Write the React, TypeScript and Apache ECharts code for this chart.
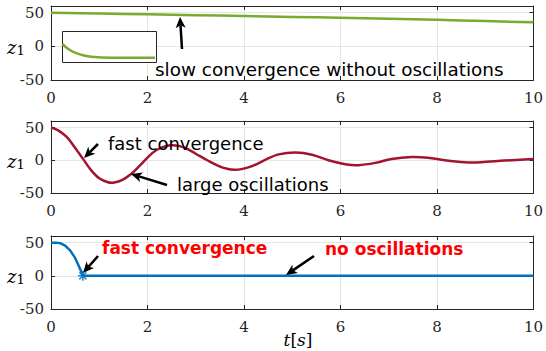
import React, { useEffect, useRef } from "react";
import * as echarts from "echarts";

// ---- data ----
const greenT = [0, 1, 2, 3, 4, 5, 6, 7, 8, 9, 10];
const greenZ = [50, 48.8, 47.6, 46.4, 45.1, 43.8, 42.4, 41.0, 39.4, 37.6, 35.7];

const redT = [0, 0.14, 0.32, 0.49, 0.66, 0.83, 1.0, 1.18, 1.31, 1.48, 1.66, 1.83, 2.0, 2.17, 2.38, 2.5, 2.65, 2.79, 3.0, 3.24, 3.48, 3.65, 3.8, 3.95, 4.17, 4.45, 4.72, 5.07, 5.41, 5.75, 6.1, 6.37, 6.72, 7.06, 7.47, 7.81, 8.16, 8.57, 8.91, 9.4, 10];
const redZ = [50, 46, 36, 20, 2.5, -15, -27.5, -33.5, -34, -30, -21, -9, 4, 15, 21.5, 23, 22, 18.5, 10, 0, -9, -13, -14.5, -13.5, -9, 1, 9, 12, 8.5, 0, -6, -7.5, -4, 2, 5, 4, 0, -3, -3, -0.5, 2];

const blueT = [0, 0.1, 0.2, 0.3, 0.4, 0.5, 0.6, 0.66, 10];
const blueZ = [50, 50, 49, 45, 38, 27, 11, 0, 0];

const markerT = [0.66];
const markerZ = [0];

// inset (zoomed view of the green response, in inset units)
const insetT = [0.3, 6.3, 13, 23, 36.3, 53, 93];
const insetZ = [18, 13, 9.3, 6.3, 4.7, 4.3, 4.3];

const xMin = 0, xMax = 10, xStep = 2;
const yMin = -50, yMax = 60, yStep = 50;

const zip = (a: number[], b: number[]) => a.map((v, i) => [v, b[i]]);

const AX = "#262626";
const GRIDC = "#e6e6e6";
const SERIF = "DejaVu Serif";
const SANS = "DejaVu Sans";

function asteriskPath() {
  const L = 1, W = 0.16;
  let d = "";
  for (const a of [0, 45, 90, 135]) {
    const r = (a * Math.PI) / 180;
    const c = Math.cos(r), s = Math.sin(r);
    const pts = [[-L, -W], [L, -W], [L, W], [-L, W]].map(([x, y]) => [x * c - y * s, x * s + y * c]);
    d += "M" + pts.map((p) => p[0].toFixed(3) + " " + p[1].toFixed(3)).join("L") + "Z";
  }
  return "path://" + d;
}

function arrow(x1: number, y1: number, x2: number, y2: number) {
  const dx = x2 - x1, dy = y2 - y1;
  const L = Math.hypot(dx, dy);
  const ux = dx / L, uy = dy / L;
  const hl = 11, hw = 5;
  const bx = x2 - ux * hl, by = y2 - uy * hl;
  const nx = x2 - ux * hl * 0.75, ny = y2 - uy * hl * 0.75;
  return [
    { type: "line", z: 20, shape: { x1, y1, x2: nx, y2: ny }, style: { stroke: "#000", lineWidth: 2.5 } },
    {
      type: "polygon", z: 20,
      shape: { points: [[x2, y2], [bx - uy * hw, by + ux * hw], [nx, ny], [bx + uy * hw, by - ux * hw]] },
      style: { fill: "#000" },
    },
  ];
}

function label(text: string, x: number, y: number, opts: any = {}) {
  return {
    type: "text", z: 20, x, y,
    style: {
      text, fontFamily: SANS, fontSize: 18, fill: "#000",
      align: "left", verticalAlign: "middle", ...opts,
    },
  };
}

function smoothCurve(xIdx: number, yIdx: number, ts: number[], zs: number[], color: string, z = 3) {
  return {
    type: "custom", coordinateSystem: "cartesian2d", xAxisIndex: xIdx, yAxisIndex: yIdx,
    data: zip(ts, zs), silent: true, z,
    renderItem: (params: any, api: any) => {
      if (params.dataIndex !== 0) return null;
      const pts = ts.map((t, i) => api.coord([t, zs[i]]));
      return {
        type: "polyline",
        shape: { points: pts, smooth: 0.35 },
        style: { stroke: color, lineWidth: 2.5, fill: "none" },
      };
    },
  };
}

const GRIDS = [
  { left: 51, top: 6, width: 485, height: 74 },
  { left: 51, top: 121, width: 485, height: 72 },
  { left: 51, top: 236, width: 485, height: 73 },
];

export default function App() {
  const ref = useRef<HTMLDivElement>(null);
  useEffect(() => {
    if (!ref.current) return;
    const chart = echarts.init(ref.current, null, { renderer: "svg" });

    const xAxes: any[] = [];
    const yAxes: any[] = [];
    GRIDS.forEach((_, i) => {
      xAxes.push({
        type: "value", gridIndex: i, min: xMin, max: xMax, interval: xStep, position: "bottom",
        axisLine: { show: true, onZero: false, lineStyle: { color: AX, width: 1 } },
        axisTick: { show: true, inside: true, length: 4, lineStyle: { color: AX } },
        axisLabel: { show: true, margin: 10, color: AX, fontFamily: SERIF, fontSize: 15 },
        splitLine: { show: true, lineStyle: { color: GRIDC, width: 1 } },
      });
      xAxes.push({
        type: "value", gridIndex: i, min: xMin, max: xMax, interval: xStep, position: "top",
        axisLine: { show: true, onZero: false, lineStyle: { color: AX, width: 1 } },
        axisTick: { show: true, inside: true, length: 4, lineStyle: { color: AX } },
        axisLabel: { show: false },
        splitLine: { show: false },
      });
      yAxes.push({
        type: "value", gridIndex: i, min: yMin, max: yMax, interval: yStep, position: "left",
        axisLine: { show: true, onZero: false, lineStyle: { color: AX, width: 1 } },
        axisTick: { show: true, inside: true, length: 4, lineStyle: { color: AX } },
        axisLabel: { show: true, margin: 7, color: AX, fontFamily: SERIF, fontSize: 15, showMaxLabel: false },
        splitLine: { show: true, lineStyle: { color: GRIDC, width: 1 } },
      });
      yAxes.push({
        type: "value", gridIndex: i, min: yMin, max: yMax, interval: yStep, position: "right",
        axisLine: { show: true, onZero: false, lineStyle: { color: AX, width: 1 } },
        axisTick: { show: true, inside: true, length: 4, lineStyle: { color: AX } },
        axisLabel: { show: false },
        splitLine: { show: false },
      });
    });
    // inset
    xAxes.push({ type: "value", gridIndex: 3, min: 0, max: 94, show: false });
    yAxes.push({ type: "value", gridIndex: 3, min: 0, max: 31, show: false });

    const zLabels = GRIDS.map((g) => ({
      type: "text", z: 20, x: 7, y: g.top + (g.height * yMax) / (yMax - yMin) + 1,
      style: {
        text: "{z|z}{s|1}", verticalAlign: "middle", align: "left",
        rich: {
          z: { fontFamily: SERIF, fontStyle: "italic", fontSize: 18, fill: "#000" },
          s: { fontFamily: SERIF, fontSize: 13, fill: "#000", padding: [6, 0, 0, 0] },
        },
      },
    }));

    const graphic: any[] = [
      {
        type: "rect", z: 5, shape: { x: 62.5, y: 31.5, width: 94, height: 31 },
        style: { fill: "#fff", stroke: AX, lineWidth: 1 },
      },
      ...zLabels,
      {
        type: "text", z: 20, x: 298, y: 340,
        style: {
          text: "{i|t}{n|[}{i|s}{n|]}", align: "center", verticalAlign: "middle",
          rich: {
            i: { fontFamily: SERIF, fontStyle: "italic", fontSize: 17, fill: "#000" },
            n: { fontFamily: SERIF, fontSize: 17, fill: "#000" },
          },
        },
      },
      ...arrow(182, 49, 180, 17),
      label("slow convergence without oscillations", 155, 69, { fontSize: 18.4 }),
      ...arrow(98, 144, 84, 158),
      label("fast convergence", 108, 143),
      ...arrow(167, 185, 131, 174),
      label("large oscillations", 177, 184),
      ...arrow(98, 256, 83, 273),
      label("fast convergence", 102, 248, { fill: "#ff0000", fontWeight: "bold", fontSize: 17 }),
      ...arrow(314, 256, 286, 275),
      label("no oscillations", 325, 249, { fill: "#ff0000", fontWeight: "bold", fontSize: 17 }),
    ];

    chart.setOption({
      animation: false,
      backgroundColor: "#fff",
      grid: [
        ...GRIDS.map((g) => ({ ...g, containLabel: false })),
        { left: 62, top: 31, width: 94, height: 31, containLabel: false },
      ],
      xAxis: xAxes,
      yAxis: yAxes,
      series: [
        {
          type: "line", xAxisIndex: 0, yAxisIndex: 0, data: zip(greenT, greenZ), smooth: true,
          showSymbol: false, lineStyle: { color: "#77AC30", width: 2.5 }, z: 3,
        },
        smoothCurve(2, 2, redT, redZ, "#A2142F"),
        {
          type: "line", xAxisIndex: 4, yAxisIndex: 4, data: zip(blueT, blueZ), smooth: false,
          showSymbol: false, lineStyle: { color: "#0072BD", width: 2.5 }, z: 3,
        },
        {
          type: "scatter", xAxisIndex: 4, yAxisIndex: 4, data: zip(markerT, markerZ),
          symbol: asteriskPath(), symbolSize: 10, itemStyle: { color: "#0072BD" }, z: 4,
        },
        smoothCurve(6, 6, insetT, insetZ, "#77AC30", 10),
      ],
      graphic,
    });
    return () => chart.dispose();
  }, []);
  return <div ref={ref} style={{ position: "fixed", left: 0, top: 0, width: 546, height: 351 }} />;
}
